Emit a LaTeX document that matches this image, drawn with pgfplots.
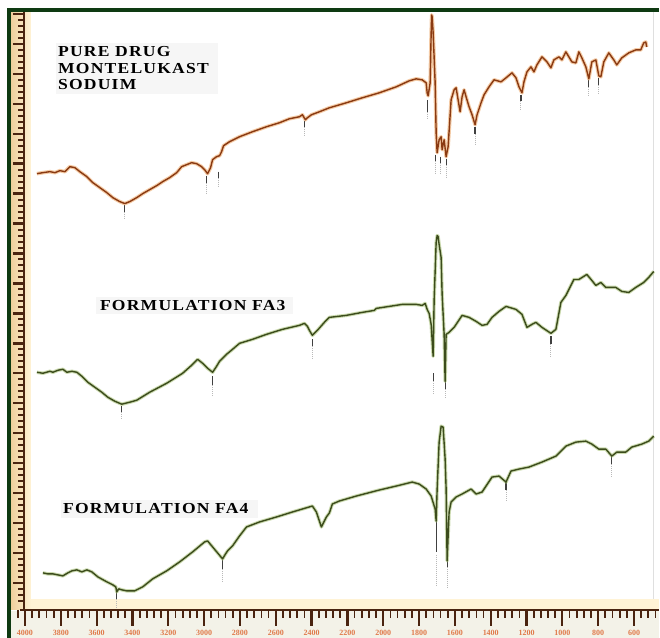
\documentclass[border=0pt]{standalone}
\usepackage{fontspec}
\setmainfont{Liberation Serif}
\usepackage{pgfplots}
\usepackage{pgfplotstable}
\pgfplotsset{compat=1.18}

\definecolor{frameGreen}{HTML}{0E3A12}
\definecolor{rulerBrown}{HTML}{4A2410}
\definecolor{rulerTan}{HTML}{EFCF9C}
\definecolor{rulerCream}{HTML}{FFF3D6}
\definecolor{rulerFoot}{HTML}{F3F2E8}
\definecolor{drugCore}{HTML}{8A3A12}
\definecolor{drugGlow}{HTML}{EBA25E}
\definecolor{formCore}{HTML}{3C4C1C}
\definecolor{formGlow}{HTML}{A9C27A}
\definecolor{tickLabel}{HTML}{E07A4A}

% Spectra, traced in picture units (x to the right, y downwards)
\pgfplotstableread{
x y
37 174
43 173
50 172
55 173
60 171
65 172
70 167
75 168
80 172
87 177
93 183
100 188
107 193
113 198
120 202
125 204
130 202
137 198
143 194
150 190
157 186
163 182
170 178
177 173
182 167
187 165
192 163
197 164
202 167
205 170
208 174
211 168
213 160
217 157
220 156
222 152
224 146
230 142
240 137
253 132
267 127
280 123
290 119
300 117
303 115
306 120
308 118
312 115
320 112
330 108
347 103
363 98
380 93
397 87
410 81
417 79
423 80
427 83
428 93
429 96
431 83
432 33
432.5 15
433 17
434 33
436 83
437 133
438 153
440 140
442 137
443 150
445 140
447 157
449 147
452 100
455 90
457 88
459 100
461 112
463 97
465 90
467 97
470 107
473 115
476 125
478 115
482 103
485 95
490 87
495 80
502 82
507 78
513 73
517 78
520 87
523 93
525 82
528 72
532 67
535 72
538 65
543 57
548 62
552 68
555 60
560 57
563 60
567 52
570 57
573 62
577 63
580 52
583 58
587 67
590 79
593 62
597 60
600 76
602 77
605 62
610 53
615 60
618 65
623 58
630 53
637 50
642 50
645 43
647 42
648 47
}\drug

\pgfplotstableread{
x y
37 373
43 374
50 372
53 373
58 371
63 370
67 373
72 372
77 373
82 377
88 383
95 388
102 393
108 398
115 402
122 405
130 403
137 401
150 393
167 384
183 374
192 366
198 360
203 364
208 369
213 373
217 367
220 362
227 355
233 350
240 344
253 340
267 335
283 330
300 326
305 324
308 327
310 331
313 336
316 333
318 331
325 323
330 318
347 316
363 313
375 311
377 309
390 307
403 305
417 305
423 306
426 304
428 310
430 314
432 325
434 357
435 300
436 272
437 243
438 236
439 237
440 245
442 258
443 295
445 335
446 382
447 335
450 333
455 328
463 316
470 318
477 322
483 326
488 325
493 318
500 312
507 307
517 310
523 315
528 328
533 325
537 323
543 328
552 334
557 330
562 303
567 296
575 280
580 280
588 275
593 281
597 286
602 283
607 288
617 288
623 292
630 293
637 288
645 283
650 278
655 272
}\fathree

\pgfplotstableread{
x y
43 574
48 575
53 575
58 576
63 577
68 574
72 572
77 571
82 573
87 571
92 573
98 578
107 583
113 586
116 588
117 593
119 590
122 591
127 592
135 592
143 588
153 580
167 572
180 563
193 553
205 543
208 542
213 548
218 554
223 560
226 555
228 552
233 547
240 537
247 528
260 523
277 518
293 513
313 507
317 513
322 528
327 518
330 514
333 505
340 502
357 497
380 491
397 487
413 483
420 485
427 490
432 497
436 510
437 522
438 490
440 443
442 427
444 428
446 460
447 490
448 562
450 513
452 503
457 498
463 495
472 490
477 495
483 493
493 478
500 477
507 483
512 472
520 470
530 468
543 463
557 457
567 447
577 443
587 442
593 445
600 450
607 450
613 457
618 453
627 453
633 448
643 445
650 442
655 437
}\fafour

% Peak markers: solid heads and dotted tails
\pgfplotstableread{
x y
125 205
125 212
nan nan
207 176
207 183
nan nan
219 172
219 178
nan nan
305 121
305 127
nan nan
428 100
428 112
nan nan
436 155
436 161
nan nan
441 157
441 163
nan nan
447 159
447 165
nan nan
476 127
476 134
nan nan
522 95
522 101
nan nan
590 80
590 87
nan nan
600 78
600 85
nan nan
122 407
122 413
nan nan
213 377
213 386
nan nan
313 340
313 347
nan nan
434 374
434 382
nan nan
446 382
446 390
nan nan
552 337
552 345
nan nan
117 593
117 600
nan nan
223 561
223 570
nan nan
437 522
437 553
nan nan
448 560
448 568
nan nan
507 483
507 491
nan nan
613 457
613 465
}\markhead

\pgfplotstableread{
x y
125 212
125 220
nan nan
207 183
207 194
nan nan
219 178
219 188
nan nan
305 127
305 137
nan nan
428 112
428 120
nan nan
436 161
436 175
nan nan
441 163
441 175
nan nan
447 165
447 178
nan nan
476 134
476 146
nan nan
522 101
522 111
nan nan
590 87
590 97
nan nan
600 85
600 95
nan nan
122 413
122 420
nan nan
213 386
213 397
nan nan
313 347
313 360
nan nan
434 382
434 395
nan nan
446 390
446 400
nan nan
552 345
552 358
nan nan
117 600
117 610
nan nan
223 570
223 583
nan nan
437 556
437 588
nan nan
448 568
448 590
nan nan
507 491
507 503
nan nan
613 465
613 478
}\marktail

\begin{document}
\begin{tikzpicture}
\begin{axis}[
  scale only axis, width=660pt, height=639pt,
  xmin=0, xmax=660, ymin=0, ymax=639, y dir=reverse,
  axis lines=none, ticks=none, clip=false,
  unbounded coords=jump,
]
% paper and frame
\fill[white] (axis cs:0,0) rectangle (axis cs:660,639);
\fill[rulerFoot] (axis cs:11,612) rectangle (axis cs:660,639);
\fill[rulerCream] (axis cs:28,600) rectangle (axis cs:660,611);
\shade[left color=rulerTan, right color=rulerCream] (axis cs:11,12) rectangle (axis cs:31,611);
\fill[frameGreen] (axis cs:7,8) rectangle (axis cs:11,639);
\fill[frameGreen] (axis cs:7,8) rectangle (axis cs:660,12);
\draw[gray!25, line width=0.8pt] (axis cs:655,12) -- (axis cs:655,600);

% left ruler
\draw[rulerBrown, line width=2pt] (axis cs:24,12) -- (axis cs:24,611);
\pgfplotsinvokeforeach{0,...,98}{
  \draw[rulerBrown, line width=2pt] (axis cs:18,{14+6*#1}) -- (axis cs:24,{14+6*#1});
}
\pgfplotsinvokeforeach{0,...,19}{
  \draw[rulerBrown, line width=2.4pt] (axis cs:13,{14+30*#1}) -- (axis cs:24,{14+30*#1});
}

% bottom ruler (wavenumber, cm^-1)
\draw[rulerBrown, line width=2.6pt] (axis cs:20,611) -- (axis cs:660,611);
\pgfplotsinvokeforeach{-1,...,88}{
  \draw[rulerBrown, line width=1.8pt] (axis cs:{25+7.18*#1},611) -- (axis cs:{25+7.18*#1},619);
}
\pgfplotsinvokeforeach{0,...,17}{
  \draw[rulerBrown, line width=2.2pt] (axis cs:{25+35.9*#1},611) -- (axis cs:{25+35.9*#1},627);
  \node[text=tickLabel, font=\bfseries\fontsize{8}{9}\selectfont, inner sep=0pt]
    at (axis cs:{25+35.9*#1},634) {\pgfmathtruncatemacro\wn{4000-200*#1}\wn};
}

% sample names
\fill[gray!7] (axis cs:56,43) rectangle (axis cs:218,94);
\fill[gray!7] (axis cs:96,298) rectangle (axis cs:294,315);
\fill[gray!7] (axis cs:61,501) rectangle (axis cs:259,519);
\begin{scope}[every node/.style={anchor=base west, inner sep=0pt,
    font=\fontsize{15.3}{17}\selectfont\bfseries\addfontfeatures{FakeStretch=1.15,LetterSpace=8}}]
\node at (axis cs:58,57) {PURE DRUG};
\node at (axis cs:58,74) {MONTELUKAST};
\node at (axis cs:58,90) {SODUIM};
\node at (axis cs:100,311) {FORMULATION FA3};
\node at (axis cs:63,515) {FORMULATION FA4};
\end{scope}

% peak markers
\addplot[gray!55, line width=1pt, densely dotted] table {\marktail};
\addplot[black!75, line width=1.2pt] table {\markhead};

% spectra
\addplot[drugGlow, line width=3.6pt, opacity=0.55, line join=round] table {\drug};
\addplot[drugCore, line width=1.4pt, line join=round] table {\drug};
\addplot[formGlow, line width=3.4pt, opacity=0.6, line join=round] table {\fathree};
\addplot[formCore, line width=1.4pt, line join=round] table {\fathree};
\addplot[formGlow, line width=3.4pt, opacity=0.6, line join=round] table {\fafour};
\addplot[formCore, line width=1.4pt, line join=round] table {\fafour};
\end{axis}
\end{tikzpicture}
\end{document}
